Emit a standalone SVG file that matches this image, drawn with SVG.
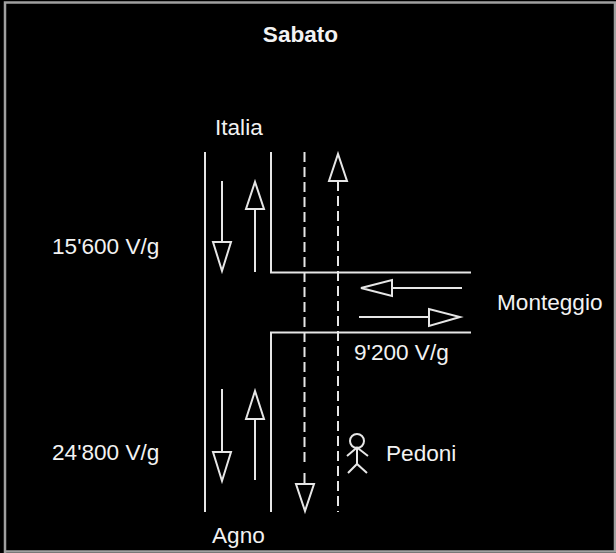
<svg xmlns="http://www.w3.org/2000/svg" width="616" height="553" viewBox="0 0 616 553">
<style>
text{font-family:"Liberation Sans",Arial,sans-serif;font-size:22.6px;fill:#f2f2f2}
.l{fill:none;stroke:#e6e6e6;stroke-width:2}
.d{stroke-dasharray:10 5}
.a{fill:none;stroke:#e6e6e6;stroke-width:2}
</style>
<rect width="616" height="553" fill="#000"/>
<path d="M5 553V2.500H615V551.500H5" fill="none" stroke="#a0a0a0" stroke-width="2.500"/>
<g id="title"><text x="300.500" y="42" text-anchor="middle" style="font-weight:bold">Sabato</text></g>
<g id="connectors">
<path class="l" d="M205 152V512"/>
<path class="l" d="M271 152V272.500H471"/>
<path class="l" d="M271 512V332.500H471"/>
<path class="l d" d="M304.500 152V466"/>
<path class="l" d="M304.500 473V484"/>
<path class="l d" d="M338 181V512"/>
<path class="a" d="M222 181V242M213 242H231L222 271Z"/>
<path class="a" d="M255 272V209M246 209H264L255 182Z"/>
<path class="a" d="M222 389V452M213 452H231L222 481Z"/>
<path class="a" d="M255 480V419M246 419H264L255 391Z"/>
<path class="a" d="M296 484H314L305 511Z"/>
<path class="a" d="M329 181H347L338 154Z"/>
<path class="a" d="M462 288H392M392 280V296L361 288Z"/>
<path class="a" d="M359 317H429M429 309V326L460 317Z"/>
</g>
<g id="pedone"><circle cx="357" cy="441" r="7" fill="none" stroke="#e6e6e6" stroke-width="2"/><path class="a" d="M357 448V464M347 456L357 447.500L368 456M348 473L357 464L367 473"/></g>
<g id="italia"><text x="215" y="135">Italia</text></g>
<g id="agno"><text x="212" y="543">Agno</text></g>
<g id="monteggio"><text x="497" y="310">Monteggio</text></g>
<g id="l1"><text x="52" y="254">15'600 V/g</text></g>
<g id="l2"><text x="52" y="460">24'800 V/g</text></g>
<g id="l3"><text x="354" y="360">9'200 V/g</text></g>
<g id="pedoni"><text x="386" y="461">Pedoni</text></g>
</svg>
